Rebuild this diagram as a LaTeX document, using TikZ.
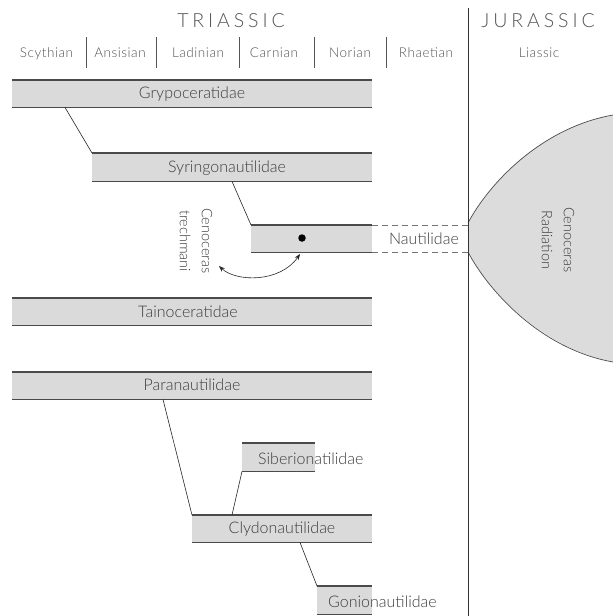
\documentclass[tikz,border=0pt]{standalone}
\usepackage{fontspec}
\setmainfont{Lato Light}
\usetikzlibrary{arrows.meta,calc}
\definecolor{txt}{HTML}{3C3C3C}
\definecolor{hdr}{HTML}{555555}
\definecolor{barfill}{HTML}{DADADA}
\definecolor{barline}{HTML}{4A4A4A}
\definecolor{lensfill}{HTML}{DCDCDC}
\begin{document}
\begin{tikzpicture}[x=1pt,y=-1pt,
  barbox/.style={rectangle, fill=barfill, draw=none, inner sep=0pt, anchor=north west},
  baredge/.style={draw=barline, line width=1.3pt},
  lbl/.style={font=\fontsize{16}{18}\selectfont, text=txt, inner sep=0pt, anchor=base},
  stage/.style={font=\fontsize{13.5}{16}\selectfont\addfontfeature{LetterSpace=4}, text=hdr, inner sep=0pt, anchor=base},
  era/.style={font=\fontsize{19.5}{22}\selectfont\addfontfeature{LetterSpace=20}, text=hdr, inner sep=0pt, anchor=base},
  sep/.style={draw=hdr, line width=0.8pt},
  conn/.style={draw=black!85, line width=0.6pt},
  rot/.style={font=\fontsize{14.5}{22}\selectfont, text=txt, inner sep=0pt, rotate=-90, align=center}]
\useasboundingbox (0,0) rectangle (613,616);
\fill[white] (0,0) rectangle (613,616);

% lens (Cenoceras radiation)
\fill[lensfill] (468,223) .. controls (488,185) and (540,128) .. (613,115)
  -- (613,362) .. controls (540,347) and (488,290) .. (468,252) -- cycle;
\draw[draw=black!70, line width=0.7pt] (468,223) .. controls (488,185) and (540,128) .. (613,115);
\draw[draw=black!70, line width=0.7pt] (468,252) .. controls (488,290) and (540,349) .. (613,362);
\node[rot] (rad) at (558,240) {Cenoceras\\Radiation};

% main boundary
\coordinate (vtop) at (468,8);
\coordinate (vbot) at (468,616);
\draw[draw=black!80, line width=0.9pt] (vtop) -- (vbot);

% headers
\node[era] (tri) at (231,27) {TRIASSIC};
\node[era] (jur) at (538,27) {JURASSIC};
\node[stage] (s1) at (46.5,57) {Scythian};
\node[stage] (s2) at (120,57) {Ansisian};
\node[stage] (s3) at (198,57) {Ladinian};
\node[stage] (s4) at (274,57) {Carnian};
\node[stage] (s5) at (350,57) {Norian};
\node[stage] (s6) at (426,57) {Rhaetian};
\node[stage] (s7) at (539,57) {Liassic};
\foreach \x in {86,156,239,314,386} \draw[sep] (\x,37) -- (\x,68);

% bars
\node[barbox, minimum width=360pt, minimum height=27pt] (gry) at (12,80) {};
\node[barbox, minimum width=280pt, minimum height=28pt] (syr) at (92,153) {};
\node[barbox, minimum width=121pt, minimum height=27pt] (nau) at (251,225) {};
\node[barbox, minimum width=360pt, minimum height=27pt] (tai) at (12,298) {};
\node[barbox, minimum width=360pt, minimum height=27pt] (par) at (12,372) {};
\node[barbox, minimum width=73pt, minimum height=28pt] (sib) at (242,443) {};
\node[barbox, minimum width=180pt, minimum height=27pt] (cly) at (192,515) {};
\node[barbox, minimum width=55pt, minimum height=28pt] (gon) at (317,586) {};
\foreach \b in {gry,syr,nau,tai,par,sib,cly,gon}
  \draw[baredge] (\b.north west) -- (\b.north east) (\b.south west) -- (\b.south east);

% bar labels
\node[lbl] (tgry) at (192,98.5) {Grypoceratidae};
\node[lbl] (tsyr) at (227,172) {Syringonautilidae};
\node[lbl] (tnau) at (424,244) {Nautilidae};
\node[lbl] (ttai) at (188,317) {Tainoceratidae};
\node[lbl] (tpar) at (192,390) {Paranautilidae};
\node[lbl, anchor=base west] (tsib) at (258,464) {Siberionatilidae};
\node[lbl] (tcly) at (282,533) {Clydonautilidae};
\node[lbl, anchor=base west] (tgon) at (328,607) {Gonionautilidae};

% dashed extension of Nautilidae
\draw[dashed, draw=black!55, line width=0.6pt, dash pattern=on 6pt off 4pt]
  (nau.north east) -- (nau.north east -| vtop)
  (nau.south east) -- (nau.south east -| vtop);

% connectors
\draw[conn] ([xshift=53pt]gry.south west) -- (syr.north west);
\draw[conn] ([xshift=140pt]syr.south west) -- (nau.north west);
\draw[conn] ([xshift=151pt]par.south west) -- (cly.north west);
\draw[conn] (sib.south west) -- ([xshift=40pt]cly.north west);
\draw[conn] ([xshift=108pt]cly.south west) -- (gon.north west);

% Cenoceras trechmani
\node[circle, fill=black, inner sep=0pt, minimum size=7.5pt] (dot) at (302,238) {};
\node[rot] (cen) at (196,241) {Cenoceras\\trechmani};
\coordinate (al) at (219,266);
\coordinate (ar) at (300,254);
\draw[conn, {Stealth[length=6pt,width=4.5pt]}-{Stealth[length=6pt,width=4.5pt]}]
  (al) .. controls (236,282) and (280,283) .. (ar);
\end{tikzpicture}
\end{document}
